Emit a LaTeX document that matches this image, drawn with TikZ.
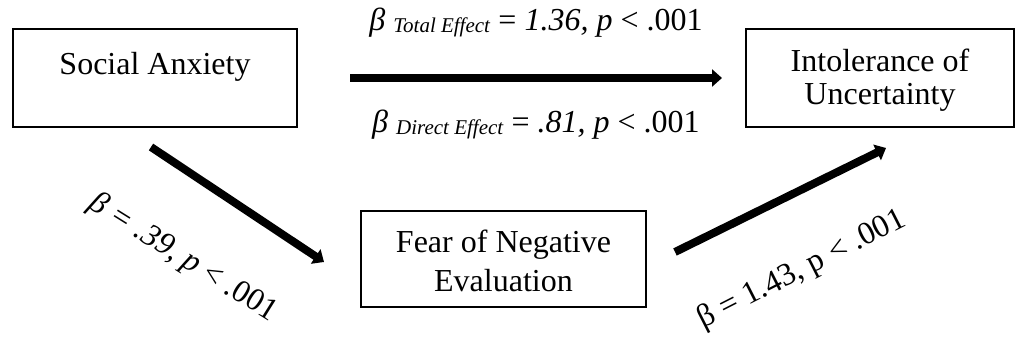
\documentclass[tikz,border=0pt]{standalone}
\usepackage{fontspec}
\setmainfont{Liberation Serif}
\usetikzlibrary{arrows.meta, positioning, calc}
\newcommand{\effsub}[1]{\raisebox{-1pt}{\fontsize{10.5}{12}\selectfont\textit{#1}}}

\begin{document}
\begin{tikzpicture}[
    x=0.5pt, y=-0.5pt,
    box/.style={
        rectangle,
        draw=black,
        line width=1pt,
        align=center,
        inner sep=0pt,
        font=\fontsize{16}{16.75}\selectfont
    },
    coef/.style={
        inner sep=0pt,
        font=\fontsize{16}{19}\selectfont
    },
    arrow/.style={-{Triangle[length=5pt, width=8.5pt]}, line width=4pt}
]

\useasboundingbox (0,0) rectangle (1016,341);

\node[box, minimum width=142pt, minimum height=49pt, text height=11pt, text depth=14pt] (anx) at (155,78) {Social Anxiety};
\node[box, minimum width=134pt, minimum height=49pt, text height=30.5pt, text depth=3.5pt] (iu) at (880,78) {Intolerance of\\Uncertainty};
\node[box, minimum width=142.5pt, minimum height=48pt, text height=33pt, text depth=0pt] (fne) at (503.5,259) {Fear of Negative\\[2.75pt]Evaluation};

% direct and total effect
\draw[arrow] ([shift={(52,0)}]anx.east) -- ([shift={(-23,0)}]iu.west)
    node[coef, midway, above=18.5pt] (total) {\textit{β} \effsub{Total Effect} = \textit{1.36, p} < .001}
    node[coef, midway, below=14pt] (direct) {\textit{β} \effsub{Direct Effect} = \textit{.81, p} < .001};

% indirect path
\draw[arrow] ([shift={(-4,19)}]anx.south) -- ([shift={(-36,3)}]fne.west);
\draw[arrow] ([shift={(28,-7)}]fne.east) -- ([shift={(6,20)}]iu.south);

\node[coef, rotate=-32] (apath) at (183,258) {\textit{β = .39, p} < .001};
\node[coef, rotate=27] (bpath) at (802,270) {β = 1.43, p < .001};

\end{tikzpicture}
\end{document}
